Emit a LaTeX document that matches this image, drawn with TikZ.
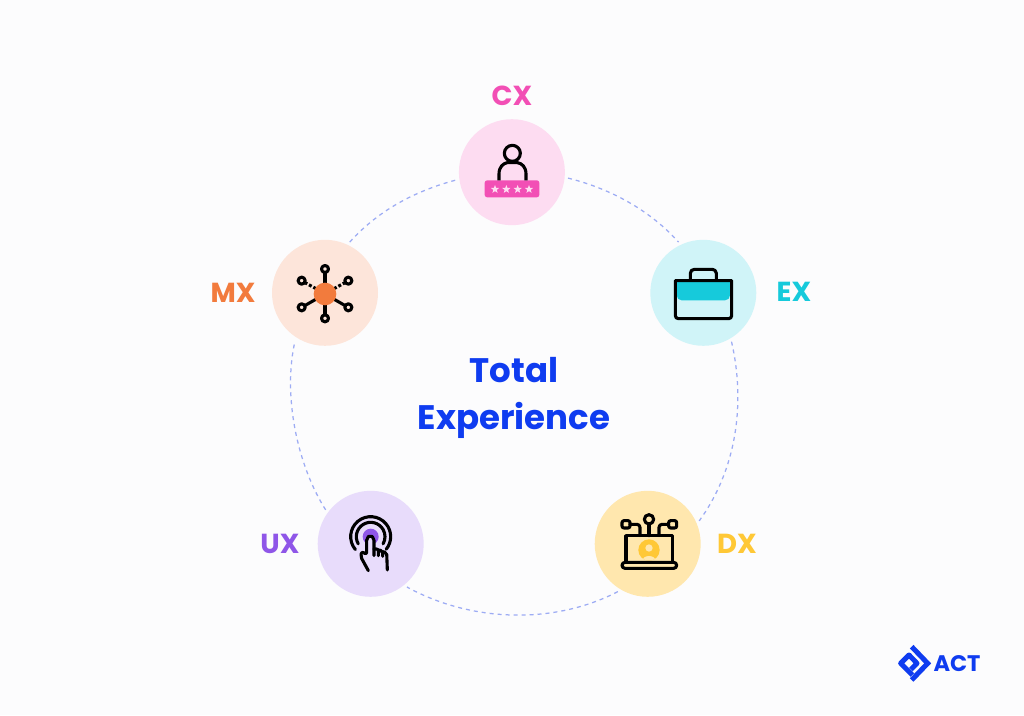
\documentclass[tikz,border=0pt]{standalone}
\usepackage{fontspec}
\setmainfont{Poppins}[BoldFont={Poppins Bold}]
\definecolor{pagebg}{HTML}{FCFCFD}
\definecolor{ringc}{HTML}{9DACF4}
\definecolor{actblue}{HTML}{0F3CF0}
\definecolor{cxc}{HTML}{F24FB5}\definecolor{cxl}{HTML}{FDDCF1}
\definecolor{exc}{HTML}{16CADB}\definecolor{exl}{HTML}{D0F4F8}
\definecolor{mxc}{HTML}{F27B3D}\definecolor{mxl}{HTML}{FDE5DA}
\definecolor{uxc}{HTML}{8F56E8}\definecolor{uxl}{HTML}{E8DCFB}
\definecolor{dxc}{HTML}{FFC836}\definecolor{dxl}{HTML}{FFE7AE}
\tikzset{
  disc/.style={circle,inner sep=0pt,minimum size=106pt,outer sep=3.4pt},
  ringarc/.style={draw=ringc,line width=1.25pt,dash pattern=on 4pt off 4pt},
  abbr/.style={inner sep=0pt,font=\fontsize{27.5}{27.5}\selectfont\bfseries},
  title/.style={inner sep=0pt,anchor=base,text=actblue,font=\fontsize{34}{34}\selectfont\bfseries},
  zoomed/.style={x=0.33333pt,y=-0.33333pt},
  ink/.style={draw=black,line width=3.1pt,line cap=round,line join=round}
}
\begin{document}
\begin{tikzpicture}[x=1pt,y=1pt]
\useasboundingbox (0,0) rectangle (1024,715);
\fill[pagebg] (0,0) rectangle (1024,715);
% discs
\node[disc,fill=cxl] (cx) at (511.9,542.8) {};
\node[disc,fill=exl] (ex) at (703.3,422.2) {};
\node[disc,fill=mxl] (mx) at (325,422.2) {};
\node[disc,fill=uxl] (ux) at (370.7,171.2) {};
\node[disc,fill=dxl] (dx) at (647.7,171.2) {};
% ring
\draw[ringarc] (cx.-6.6) to[out=-14,in=132,looseness=.87] (ex.116);
\draw[ringarc] (ex.-60.3) to[out=-77,in=54,looseness=.89] (dx.24);
\draw[ringarc] (dx.-122.8) to[out=-152.5,in=-28.8,looseness=.88] (ux.-50);
\draw[ringarc] (ux.143.9) to[out=122.4,in=256.8,looseness=.81] (mx.-122.6);
\draw[ringarc] (mx.64) to[out=48.3,in=194.7,looseness=.87] (cx.188);
% labels
\node[abbr,text=cxc] (cxlabel) at (512,619) {CX};
\node[abbr,text=exc] (exlabel) at (794,423) {EX};
\node[abbr,text=mxc] (mxlabel) at (233,422) {MX};
\node[abbr,text=uxc] (uxlabel) at (280,171) {UX};
\node[abbr,text=dxc] (dxlabel) at (737,171) {DX};
\node[title] (total) at (514,332.5) {Total};
\node[title] (experience) at (514,285) {Experience};
% CX icon
\begin{scope}[shift={(450,645)},zoomed]
  \fill[cxc,rounded corners=2.5pt] (104,331) rectangle (268,382);
  \draw[ink,line cap=butt] (187,250) circle[radius=24];
  \draw[ink,line cap=butt] (147,331) -- (147,312) .. controls (147,290) and (160,280) .. (172,278) -- (202,278) .. controls (215,280) and (228,290) .. (228,312) -- (228,331);
  \foreach \sx in {135,169,203,237}{
    \fill[cxl,shift={(\sx,358)}] (-90:13)--(-54:5.5)--(-18:13)--(18:5.5)--(54:13)--(90:5.5)--(126:13)--(162:5.5)--(198:13)--(234:5.5)--cycle;
  }
\end{scope}
% EX icon
\begin{scope}[shift={(640,480)},zoomed]
  \fill[exc,rounded corners=5pt] (110,120) rectangle (270,196);
  \fill[exl] (100,110) rectangle (280,133);
  \draw[ink] (106,137) -- (275,137) -- (275,240) [rounded corners=3pt] -- (275,251) -- (106,251) -- (106,137);
  \draw[ink,rounded corners=4pt] (151,135) -- (151,103) -- (229,103) -- (229,135);
\end{scope}
% MX icon
\begin{scope}[shift={(200,480)},zoomed]
  \draw[ink,line cap=butt] (375,177) -- (375,115);
  \draw[ink,line cap=butt] (375,177) -- (375,238);
  \draw[ink,line cap=butt] (375,177) -- (316,211);
  \draw[ink,line cap=butt] (375,177) -- (434,211);
  \draw[ink,line cap=butt,dash pattern=on 3pt off 2pt] (348,161) -- (317,144);
  \draw[ink,line cap=butt,dash pattern=on 3pt off 2pt] (402,161) -- (433,144);
  \foreach \nx/\ny in {375/102,375/250,305/137,445/137,305/217,445/217}{
    \draw[ink,line cap=butt] (\nx,\ny) circle[radius=10.5];
  }
  \fill[mxc] (375,177) circle[radius=34];
\end{scope}
% UX icon
\begin{scope}[shift={(250,230)},zoomed]
  \fill[uxc] (362,155) circle[radius=24];
  \draw[ink] (362,155) ++(140:60) arc[start angle=140,end angle=399,radius=60];
  \draw[ink] (362,155) ++(150:43) arc[start angle=150,end angle=390,radius=43];
  \fill[uxl] (350,160) -- (361,150) -- (372,160) -- (372,192) -- (410,203) -- (412,255) -- (355,257) -- (332,215) -- (335,200) -- (350,208) -- cycle;
  \draw[ink,rounded corners=2pt] (355,257) -- (332,215) -- (335,200) -- (350,208) -- (350,160) -- (361,150) -- (372,160) -- (372,212);
  \draw[ink,rounded corners=2pt] (372,192) -- (385,192) -- (385,212);
  \draw[ink,rounded corners=2pt] (385,195) -- (398,197) -- (398,214);
  \draw[ink,rounded corners=2pt] (398,200) -- (410,203) -- (412,255);
\end{scope}
% DX icon
\begin{scope}[shift={(590,230)},zoomed]
  \fill[dxc] (177,195) circle[radius=32];
  \begin{scope}
    \clip (177,195) circle[radius=32];
    \fill[dxl] (177,189) circle[radius=11];
    \fill[dxl] (155,230) .. controls (155,208) and (199,208) .. (199,230) -- cycle;
  \end{scope}
  \draw[ink] (108,230) -- (108,152) -- (248,152) -- (248,230);
  \draw[ink,rounded corners=3pt] (96,232) -- (260,232) -- (260,250) -- (96,250) -- cycle;
  \draw[ink] (177,103) circle[radius=14];
  \draw[ink] (177,117) -- (177,152);
  \draw[ink,rounded corners=2pt] (96,107) rectangle (120,129);
  \draw[ink,rounded corners=2pt] (236,107) rectangle (260,129);
  \draw[ink,rounded corners=3pt] (120,118) -- (150,118) -- (150,152);
  \draw[ink,rounded corners=3pt] (236,118) -- (207,118) -- (207,152);
\end{scope}
% logo
\begin{scope}[shift={(885,80)},zoomed]
  \draw[actblue,line width=5pt,line join=miter] (80,35) -- (128,85) -- (80,135);
  \draw[actblue,line width=5pt,line join=round] (82,120) -- (47,85) -- (72,60) -- (96,85) -- (78,103);
\end{scope}
\node[inner sep=0pt,text=actblue,font=\fontsize{22.5}{22.5}\selectfont\bfseries] (act) at (957,51) {ACT};
\end{tikzpicture}
\end{document}
